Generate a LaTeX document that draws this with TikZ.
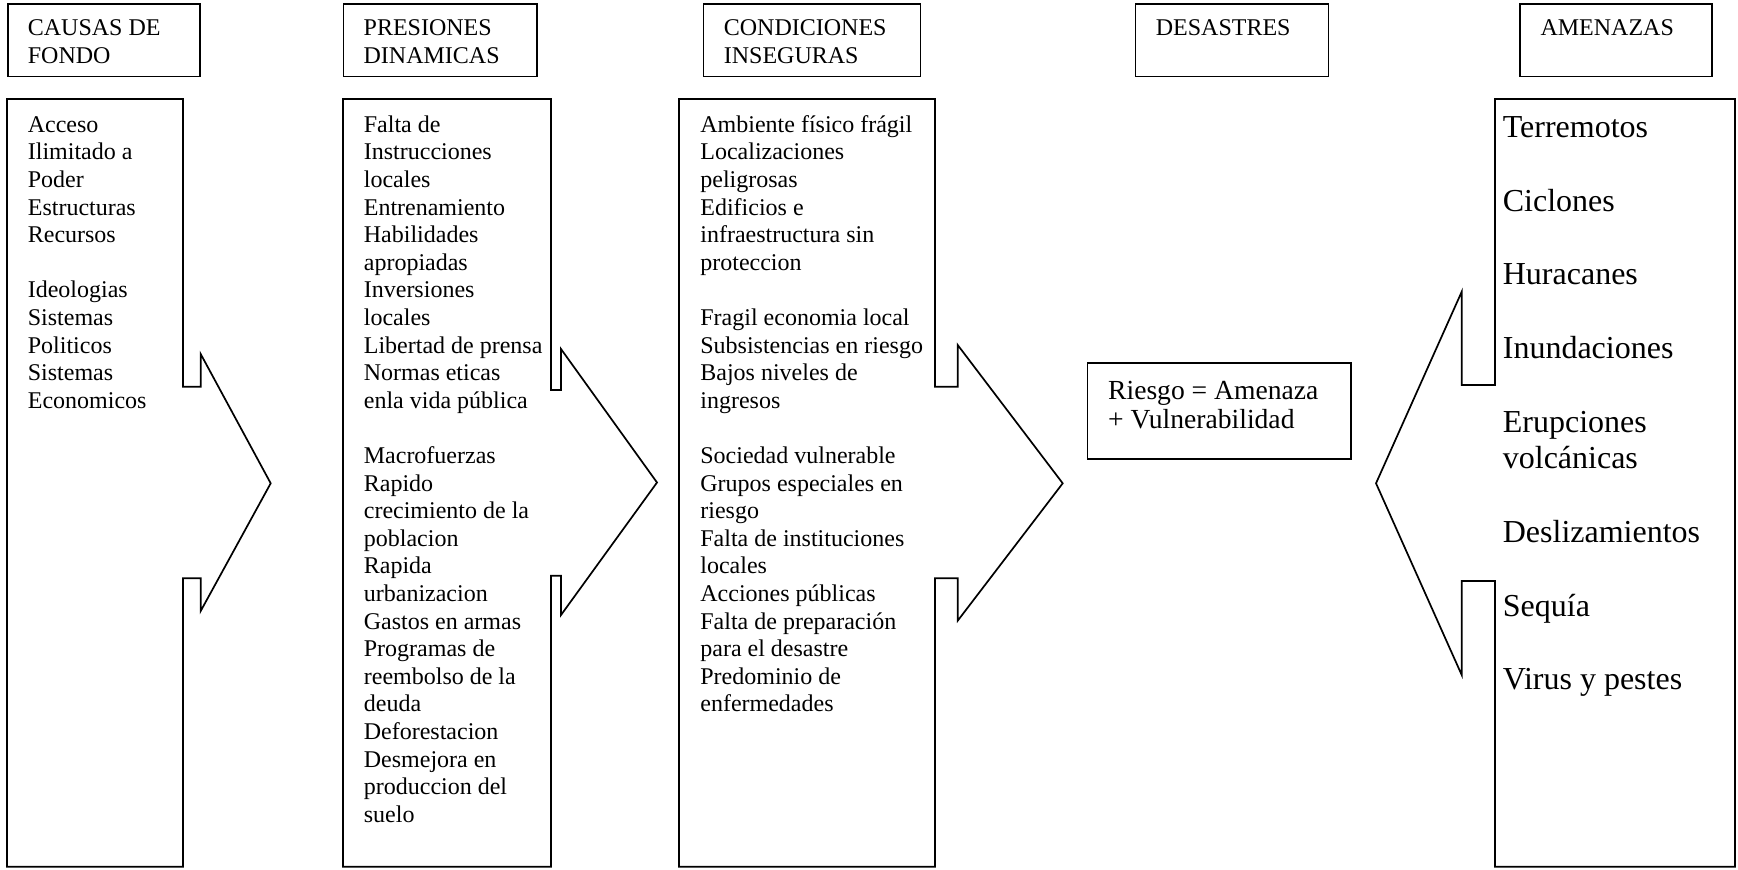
\documentclass[tikz,border=0pt]{standalone}
\usepackage{fontspec}
\setmainfont{Liberation Serif}
\begin{document}
\begin{tikzpicture}[x=0.5pt,y=-0.5pt,line width=0.85pt,
  hdr/.style={draw,rectangle,inner sep=0pt,anchor=north west},
  callout/.style={draw,line join=miter},
  bodytxt/.style={font=\fontsize{12}{13.8}\selectfont,align=left,anchor=north west,inner sep=0pt},
  hazard/.style={font=\fontsize{16}{18.4}\selectfont,anchor=base west,inner sep=0pt},
  risktxt/.style={font=\fontsize{13.8}{14.5}\selectfont,align=left,anchor=north west,inner sep=0pt}]
\useasboundingbox (0,0) rectangle (1738,869);

% header boxes
\node[hdr,minimum width=96pt,minimum height=36.25pt] (h1) at (7,3) {};
\node[hdr,minimum width=96.75pt,minimum height=36.25pt] (h2) at (342.5,3) {};
\node[hdr,minimum width=108.5pt,minimum height=36.25pt] (h3) at (702.6,3) {};
\node[hdr,minimum width=96.5pt,minimum height=36.25pt] (h4) at (1134.6,3) {};
\node[hdr,minimum width=96pt,minimum height=36.25pt] (h5) at (1519,3) {};

\node[bodytxt] (h1t) at (27,15.7) {\strut CAUSAS DE\\FONDO};
\node[bodytxt] (h2t) at (362.8,15.7) {\strut PRESIONES\\DINAMICAS};
\node[bodytxt] (h3t) at (723,15.7) {\strut CONDICIONES\\INSEGURAS};
\node[bodytxt] (h4t) at (1155,15.7) {\strut DESASTRES};
\node[bodytxt] (h5t) at (1539.7,15.7) {\strut AMENAZAS};

% callout boxes
\coordinate (c1) at (7,99);
\draw[callout] (c1) -- (183,99) -- (183,386.7) -- (200.7,386.7) -- (200.7,354)
  -- (270.7,483.3) -- (200.7,611) -- (200.7,578.3) -- (183,578.3) -- (183,866.7)
  -- (7,866.7) -- cycle;
\coordinate (c2) at (343,99);
\draw[callout] (c2) -- (551,99) -- (551,390) -- (561,390) -- (561,349)
  -- (657,482.5) -- (561,615) -- (561,575.7) -- (551,575.7) -- (551,866.7)
  -- (343,866.7) -- cycle;
\coordinate (c3) at (679,99);
\draw[callout] (c3) -- (935,99) -- (935,386.7) -- (957.7,386.7) -- (957.7,345)
  -- (1062.7,483.3) -- (957.7,620.7) -- (957.7,578.3) -- (935,578.3) -- (935,866.7)
  -- (679,866.7) -- cycle;
\coordinate (c5) at (1495,99);
\draw[callout] (c5) -- (1735,99) -- (1735,866.7) -- (1495,866.7) -- (1495,581)
  -- (1461.7,581) -- (1461.7,675) -- (1376,483.3) -- (1461.7,291.7) -- (1461.7,385)
  -- (1495,385) -- cycle;

% body texts
\node[bodytxt] (b1) at (27,112.2) {\strut Acceso\\Ilimitado a\\Poder\\Estructuras\\Recursos\\[13.8pt]Ideologias\\Sistemas\\Politicos\\Sistemas\\Economicos};
\node[bodytxt] (b2) at (363,112.2) {\strut Falta de\\Instrucciones\\locales\\Entrenamiento\\Habilidades\\apropiadas\\Inversiones\\locales\\Libertad de prensa\\Normas eticas\\enla vida pública\\[13.8pt]Macrofuerzas\\Rapido\\crecimiento de la\\poblacion\\Rapida\\urbanizacion\\Gastos en armas\\Programas de\\reembolso de la\\deuda\\Deforestacion\\Desmejora en\\produccion del\\suelo};
\node[bodytxt] (b3) at (699.5,112.2) {\strut Ambiente físico frágil\\Localizaciones\\peligrosas\\Edificios e\\infraestructura sin\\proteccion\\[13.8pt]Fragil economia local\\Subsistencias en riesgo\\Bajos niveles de\\ingresos\\[13.8pt]Sociedad vulnerable\\Grupos especiales en\\riesgo\\Falta de instituciones\\locales\\Acciones públicas\\Falta de preparación\\para el desastre\\Predominio de\\enfermedades};

% risk box
\node[hdr,minimum width=131.65pt,minimum height=48pt] (r) at (1086.7,362) {};
\node[risktxt] (rt) at (1107.3,378) {\strut Riesgo = Amenaza\\+ Vulnerabilidad};

% hazards
\node[hazard] (a1) at (1502,137.7) {Terremotos};
\node[hazard] (a2) at (1502,211.3) {Ciclones};
\node[hazard] (a3) at (1502,284.9) {Huracanes};
\node[hazard] (a4) at (1502,358.5) {Inundaciones};
\node[hazard] (a5) at (1502,432.1) {Erupciones};
\node[hazard] (a6) at (1502,468.9) {volcánicas};
\node[hazard] (a7) at (1502,542.5) {Deslizamientos};
\node[hazard] (a8) at (1502,616.1) {Sequía};
\node[hazard] (a9) at (1502,689.7) {Virus y pestes};
\end{tikzpicture}
\end{document}
